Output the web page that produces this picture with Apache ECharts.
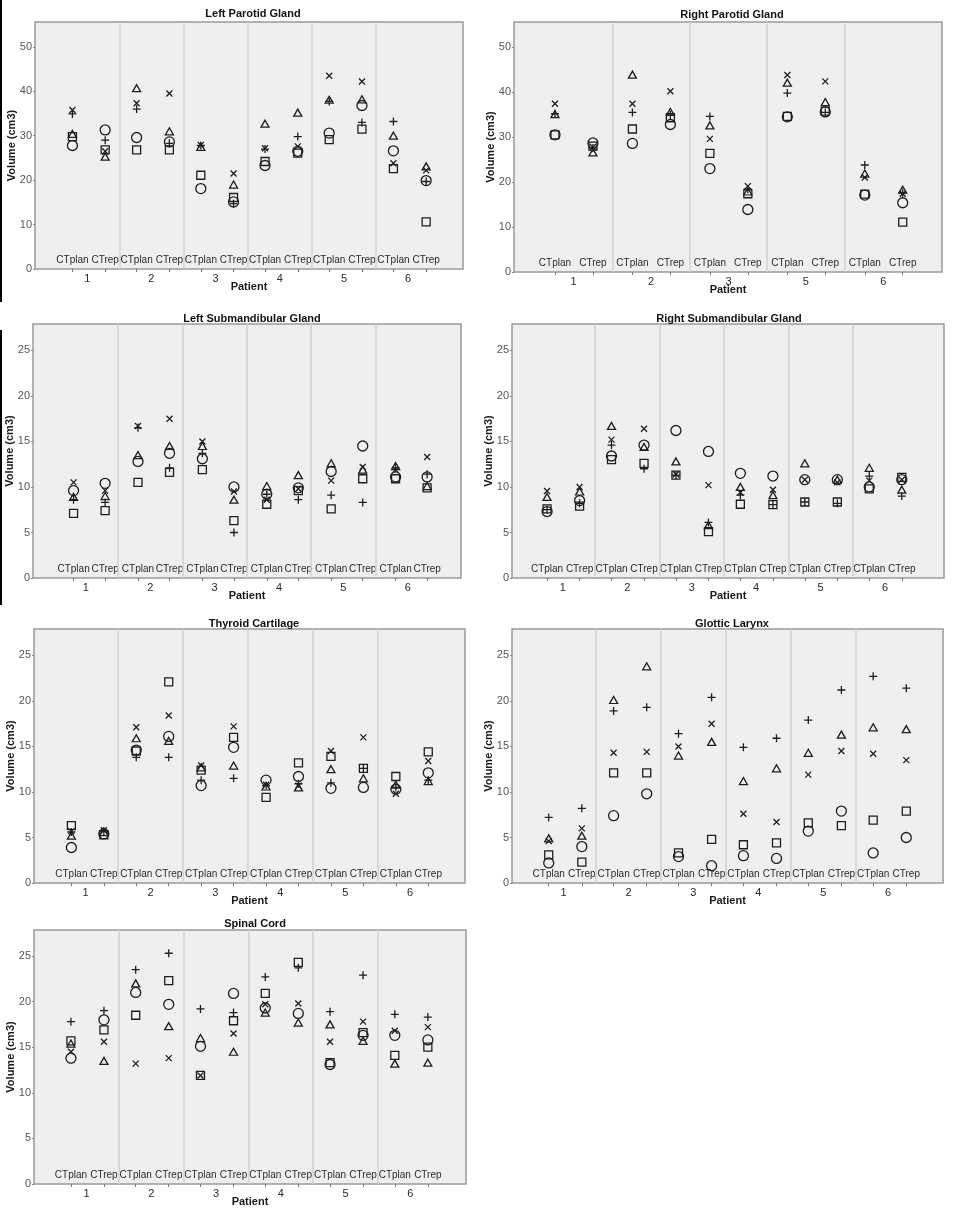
<!DOCTYPE html>
<html>
<head>
<meta charset="utf-8">
<script src="https://cdn.jsdelivr.net/npm/echarts@6/dist/echarts.min.js"></script>
<style>
html,body{margin:0;padding:0;background:#fff;}
#chart{width:955px;height:1210px;}
</style>
</head>
<body>
<div id="chart"></div>
<script>
// ---------- DATA ----------
const phases = ['CTplan', 'CTrep'];
const allPatients = ['1', '2', '3', '4', '5', '6'];
const rpPatients = ['1', '2', '3', '5', '6'];

// values ordered: P1 CTplan, P1 CTrep, P2 CTplan, P2 CTrep, ...
// Left Parotid Gland
const lpCircle   = [27.8, 31.3, 29.6, 28.6, 18.1, 15.1, 23.3, 26.5, 30.6, 36.8, 26.6, 19.9];
const lpSquare   = [29.8, 26.8, 26.8, 26.8, 21.1, 16.1, 24.2, 26.1, 29.1, 31.5, 22.6, 10.6];
const lpTriangle = [30.4, 25.3, 40.7, 31.0, 27.5, 19.0, 32.7, 35.2, 38.1, 38.2, 30.0, 23.1];
const lpCross    = [35.8, 26.5, 37.3, 39.5, 27.9, 21.5, 27.2, 27.6, 43.5, 42.2, 23.8, 22.2];
const lpPlus     = [34.9, 29.0, 36.0, 28.3, 27.8, 14.7, 27.0, 29.8, 37.7, 33.0, 33.2, 19.7];
// Right Parotid Gland (patients 1,2,3,5,6)
const rpCircle   = [30.5, 28.7, 28.6, 32.8, 23.0, 13.9, 34.5, 35.6, 17.1, 15.4];
const rpSquare   = [30.5, 28.0, 31.8, 34.3, 26.4, 17.4, 34.6, 35.8, 17.3, 11.1];
const rpTriangle = [35.1, 26.6, 43.9, 35.6, 32.6, 17.9, 42.1, 37.8, 21.9, 18.3];
const rpCross    = [37.4, 27.8, 37.4, 40.2, 29.6, 19.1, 43.8, 42.4, 21.0, 17.4];
const rpPlus     = [35.2, 27.6, 35.5, 34.9, 34.6, 18.4, 39.8, 35.5, 23.8, 17.6];
// Left Submandibular Gland
const lsCircle   = [9.6, 10.4, 12.8, 13.7, 13.1, 10.0, 9.2, 9.9, 11.7, 14.5, 11.1, 11.1];
const lsSquare   = [7.1, 7.4, 10.5, 11.6, 11.9, 6.3, 8.1, 9.6, 7.6, 10.9, 10.9, 9.9];
const lsTriangle = [8.9, 9.0, 13.5, 14.5, 14.5, 8.6, 10.1, 11.3, 12.6, 11.9, 12.3, 10.1];
const lsCross    = [10.5, 9.6, 16.7, 17.5, 15.0, 9.5, 8.6, 9.8, 10.7, 12.2, 11.9, 13.3];
const lsPlus     = [8.6, 8.3, 16.5, 12.1, 13.7, 5.0, 9.2, 8.6, 9.1, 8.3, 12.1, 11.4];
// Right Submandibular Gland
const rsCircle   = [7.3, 8.5, 13.4, 14.6, 16.2, 13.9, 11.5, 11.2, 10.8, 10.8, 10.0, 10.8];
const rsSquare   = [7.6, 7.9, 13.0, 12.6, 11.3, 5.1, 8.1, 8.05, 8.35, 8.35, 9.8, 11.05];
const rsTriangle = [8.9, 9.5, 16.7, 14.4, 12.8, 5.8, 10.0, 9.1, 12.6, 10.8, 12.1, 9.7];
const rsCross    = [9.55, 10.0, 15.2, 16.4, 11.4, 10.2, 9.4, 9.7, 10.8, 10.5, 10.7, 10.8];
const rsPlus     = [7.5, 8.2, 14.6, 12.0, 11.3, 6.1, 9.1, 8.05, 8.35, 8.2, 11.2, 9.0];
// Thyroid Cartilage
const tcCircle   = [3.9, 5.4, 14.6, 16.1, 10.7, 14.9, 11.3, 11.7, 10.4, 10.5, 10.3, 12.1];
const tcSquare   = [6.3, 5.3, 14.5, 22.1, 12.4, 16.0, 9.4, 13.2, 13.9, 12.6, 11.7, 14.4];
const tcTriangle = [5.2, 5.6, 15.9, 15.6, 12.7, 12.9, 10.6, 10.5, 12.5, 11.5, 10.8, 11.2];
const tcCross    = [5.7, 5.8, 17.1, 18.4, 12.9, 17.2, 10.8, 10.7, 14.5, 16.0, 9.8, 13.4];
const tcPlus     = [5.6, 5.7, 13.8, 13.8, 11.3, 11.5, 10.7, 10.9, 11.0, 12.6, 10.5, 11.3];
// Glottic Larynx
const glCircle   = [2.2, 4.0, 7.4, 9.8, 2.9, 1.9, 3.0, 2.7, 5.7, 7.9, 3.3, 5.0];
const glSquare   = [3.1, 2.3, 12.1, 12.1, 3.3, 4.8, 4.2, 4.4, 6.6, 6.3, 6.9, 7.9];
const glTriangle = [4.9, 5.2, 20.1, 23.8, 14.0, 15.5, 11.2, 12.6, 14.3, 16.3, 17.1, 16.9];
const glCross    = [4.6, 6.0, 14.3, 14.4, 15.0, 17.5, 7.6, 6.7, 11.9, 14.5, 14.2, 13.5];
const glPlus     = [7.2, 8.2, 18.9, 19.3, 16.4, 20.4, 14.9, 15.9, 17.9, 21.2, 22.7, 21.4];
// Spinal Cord
const scCircle   = [13.8, 18.0, 21.0, 19.7, 15.1, 20.9, 19.3, 18.7, 13.1, 16.3, 16.3, 15.8];
const scSquare   = [15.7, 16.9, 18.5, 22.3, 11.9, 17.9, 20.9, 24.3, 13.3, 16.6, 14.1, 15.0];
const scTriangle = [15.4, 13.5, 22.0, 17.3, 16.0, 14.5, 18.8, 17.7, 17.5, 15.7, 13.2, 13.3];
const scCross    = [14.5, 15.6, 13.2, 13.8, 11.9, 16.5, 19.7, 19.8, 15.6, 17.8, 16.8, 17.2];
const scPlus     = [17.8, 19.0, 23.5, 25.3, 19.2, 18.8, 22.7, 23.7, 18.9, 22.9, 18.6, 18.3];

// ---------- LAYOUT ----------
const panels = [
  { title: 'Left Parotid Gland', patients: allPatients, values: [lpCircle, lpSquare, lpTriangle, lpCross, lpPlus],
    box: [35, 22, 428, 247], yMax: 55.6, yInt: 10, xMin: 0.187, xMax: 6.854, off: [-0.23, 0.28], tx: 253, ty: 8 },
  { title: 'Right Parotid Gland', patients: rpPatients, values: [rpCircle, rpSquare, rpTriangle, rpCross, rpPlus],
    box: [514, 22, 428, 250], yMax: 55.6, yInt: 10, xMin: 0.231, xMax: 5.757, off: [-0.24, 0.25], tx: 732, ty: 9 },
  { title: 'Left Submandibular Gland', patients: allPatients, values: [lsCircle, lsSquare, lsTriangle, lsCross, lsPlus],
    box: [33, 324, 428, 254], yMax: 27.9, yInt: 5, xMin: 0.18, xMax: 6.826, off: [-0.19, 0.30], tx: 252, ty: 313 },
  { title: 'Right Submandibular Gland', patients: allPatients, values: [rsCircle, rsSquare, rsTriangle, rsCross, rsPlus],
    box: [512, 324, 432, 254], yMax: 27.9, yInt: 5, xMin: 0.211, xMax: 6.915, off: [-0.245, 0.26], tx: 729, ty: 313 },
  { title: 'Thyroid Cartilage', patients: allPatients, values: [tcCircle, tcSquare, tcTriangle, tcCross, tcPlus],
    box: [34, 629, 431, 254], yMax: 27.9, yInt: 5, xMin: 0.204, xMax: 6.846, off: [-0.22, 0.28], tx: 254, ty: 618 },
  { title: 'Glottic Larynx', patients: allPatients, values: [glCircle, glSquare, glTriangle, glCross, glPlus],
    box: [512, 629, 431, 254], yMax: 27.9, yInt: 5, xMin: 0.204, xMax: 6.846, off: [-0.23, 0.28], tx: 732, ty: 618 },
  { title: 'Spinal Cord', patients: allPatients, values: [scCircle, scSquare, scTriangle, scCross, scPlus],
    box: [34, 930, 432, 254], yMax: 27.85, yInt: 5, xMin: 0.19, xMax: 6.859, off: [-0.24, 0.27], tx: 255, ty: 918 }
];

const FONT = "'Liberation Sans', Arial, sans-serif";
const INK = '#1e1e1e';
const markers = [
  { symbol: 'circle', size: 10 },
  { symbol: 'rect', size: 8 },
  { symbol: 'triangle', size: [8, 7] },
  { symbol: 'path://M0,0L10,10M0,10L10,0', size: 6 },
  { symbol: 'path://M5,0L5,10M0,5L10,5', size: 8 }
];

const grid = [], xAxis = [], yAxis = [], series = [], title = [];

panels.forEach((p, gi) => {
  const [l, t, w, h] = p.box;
  grid.push({ left: l, top: t, width: w, height: h, show: true, backgroundColor: '#efefef',
              borderColor: '#9a9a9a', borderWidth: 1.5, containLabel: false });
  title.push({ text: p.title, left: p.tx, top: p.ty, textAlign: 'center', padding: 0,
               textStyle: { fontFamily: FONT, fontSize: 11, fontWeight: 'bold', color: '#111' } });

  const n = p.patients.length;
  const phasePos = [];
  for (let k = 1; k <= n; k++) { phasePos.push(k + p.off[0]); phasePos.push(k + p.off[1]); }
  const patientPos = p.patients.map((_, i) => i + 1);
  const seps = [];
  for (let k = 1; k < n; k++) seps.push({ xAxis: k + 0.5 });

  const xa = xAxis.length;
  // axis A: phase ticks + inside labels
  xAxis.push({
    gridIndex: gi, type: 'value', min: p.xMin, max: p.xMax, position: 'bottom',
    axisLine: { show: false }, splitLine: { show: false },
    axisTick: { show: true, customValues: phasePos, length: 3, inside: false,
                lineStyle: { color: '#777', width: 1 } },
    axisLabel: { show: true, customValues: phasePos, inside: true, margin: 4,
                 showMinLabel: true, showMaxLabel: true, hideOverlap: false,
                 fontFamily: FONT, fontSize: 10, color: '#2a2a2a',
                 formatter: v => phases[(v - Math.floor(v)) > 0.5 ? 0 : 1] }
  });
  // axis B: patient labels
  xAxis.push({
    gridIndex: gi, type: 'value', min: p.xMin, max: p.xMax, position: 'bottom', offset: 0,
    axisLine: { show: false }, splitLine: { show: false }, axisTick: { show: false },
    axisLabel: { show: true, customValues: patientPos, margin: 4,
                 showMinLabel: true, showMaxLabel: true,
                 fontFamily: FONT, fontSize: 11, color: '#2a2a2a',
                 formatter: v => p.patients[Math.round(v) - 1] },
    name: 'Patient', nameLocation: 'middle', nameGap: 12, nameMoveOverlap: false,
    nameTextStyle: { fontFamily: FONT, fontSize: 11, fontWeight: 'bold', color: '#1a1a1a' }
  });
  yAxis.push({
    gridIndex: gi, type: 'value', min: 0, max: p.yMax, interval: p.yInt,
    axisLine: { show: false }, splitLine: { show: false },
    axisTick: { show: true, length: 2, lineStyle: { color: '#888' } },
    axisLabel: { fontFamily: FONT, fontSize: 11, color: '#555', margin: 3, showMaxLabel: false },
    name: 'Volume (cm3)', nameLocation: 'middle', nameGap: 18, nameMoveOverlap: false,
    nameTextStyle: { fontFamily: FONT, fontSize: 11, fontWeight: 'bold', color: '#1a1a1a' }
  });

  p.values.forEach((vals, si) => {
    const m = markers[si];
    const s = {
      type: 'scatter', xAxisIndex: xa, yAxisIndex: gi, silent: true,
      symbol: m.symbol, symbolSize: m.size,
      itemStyle: { color: 'rgba(0,0,0,0)', borderColor: INK, borderWidth: 1.3, opacity: 1 },
      emphasis: { disabled: true },
      data: vals.map((v, i) => [phasePos[i], v]),
      z: 5
    };
    if (si === 0) {
      s.markLine = { silent: true, symbol: ['none', 'none'], label: { show: false },
                     lineStyle: { color: '#d2d2d2', width: 1.5, type: 'solid' },
                     emphasis: { disabled: true }, data: seps, z: 1 };
    }
    series.push(s);
  });
});

const chart = echarts.init(document.getElementById('chart'), null, { renderer: 'canvas' });
chart.setOption({
  animation: false,
  backgroundColor: '#ffffff',
  textStyle: { fontFamily: FONT },
  title, grid, xAxis, yAxis, series,
  graphic: [
    { type: 'rect', shape: { x: 0, y: 0, width: 2, height: 302 }, style: { fill: '#000' }, silent: true },
    { type: 'rect', shape: { x: 0, y: 330, width: 2, height: 275 }, style: { fill: '#000' }, silent: true }
  ]
});
</script>
</body>
</html>
